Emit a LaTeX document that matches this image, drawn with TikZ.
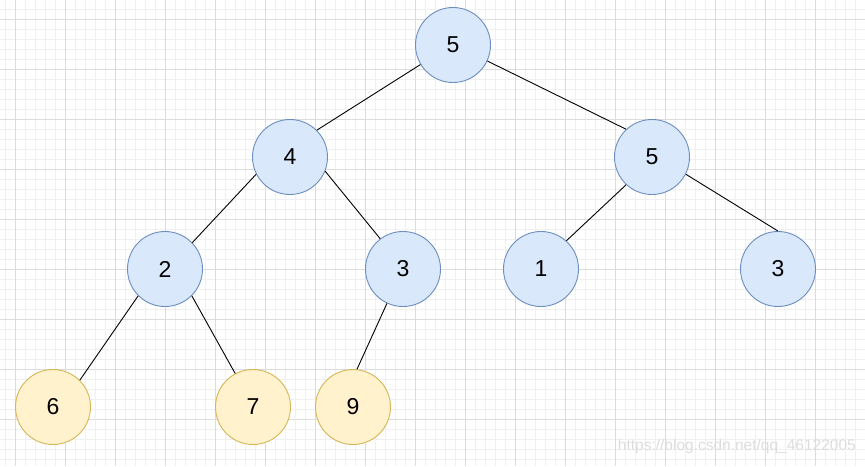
\documentclass[tikz,border=0pt]{standalone}
\usepackage{fontspec}
\setmainfont{Liberation Sans}
\definecolor{bfill}{HTML}{DAE8FC}
\definecolor{bdraw}{HTML}{6C8EBF}
\definecolor{yfill}{HTML}{FFF2CC}
\definecolor{ydraw}{HTML}{D6B656}
\definecolor{minorg}{HTML}{F0F0F0}
\definecolor{majorg}{HTML}{DCDCDC}
\definecolor{wmark}{HTML}{DDDDDD}
\tikzset{
  bnode/.style={circle,draw=bdraw,fill=bfill,line width=0.9pt,minimum size=75pt,inner sep=0pt,font=\fontsize{23}{27}\selectfont},
  ynode/.style={circle,draw=ydraw,fill=yfill,line width=0.9pt,minimum size=75pt,inner sep=0pt,font=\fontsize{23}{27}\selectfont},
  edge/.style={draw=black,line width=0.9pt}
}
\begin{document}
\begin{tikzpicture}[x=1pt,y=-1pt]
\useasboundingbox (0,0) rectangle (865,466);
\fill[white] (0,0) rectangle (865,466);
\foreach \x in {5,15,...,865} \draw[minorg,line width=0.6pt] (\x,0) -- (\x,466);
\foreach \y in {9,19,...,466} \draw[minorg,line width=0.6pt] (0,\y) -- (865,\y);
\foreach \x in {15,65,...,865} \draw[majorg,line width=0.8pt] (\x,0) -- (\x,466);
\foreach \y in {19,69,...,466} \draw[majorg,line width=0.8pt] (0,\y) -- (865,\y);
\node[font=\fontsize{15.5}{18}\selectfont,text=wmark,anchor=east,inner sep=0pt] (wm) at (856,446) {https://blog.csdn.net/qq\_46122005};
\node[bnode] (r) at (453,45) {5};
\node[bnode] (a) at (290,157) {4};
\node[bnode] (b) at (652,157) {5};
\node[bnode] (c) at (165,269) {2};
\node[bnode] (d) at (403,269) {3};
\node[bnode] (e) at (541,269) {1};
\node[bnode] (f) at (778,269) {3};
\node[ynode] (g) at (53,407) {6};
\node[ynode] (h) at (253,407) {7};
\node[ynode] (i) at (353,407) {9};
\draw[edge] (r.211) -- (a.45);
\draw[edge] (r.335) -- (b.133);
\draw[edge] (a.207) -- (c.44);
\draw[edge] (a.338) -- (d.127);
\draw[edge] (b.227) -- (e.48);
\draw[edge] (b.333) -- (f.90);
\draw[edge] (c.225) -- (g.45);
\draw[edge] (c.315) -- (h.118);
\draw[edge] (d.245) -- (i.84);
\end{tikzpicture}
\end{document}
